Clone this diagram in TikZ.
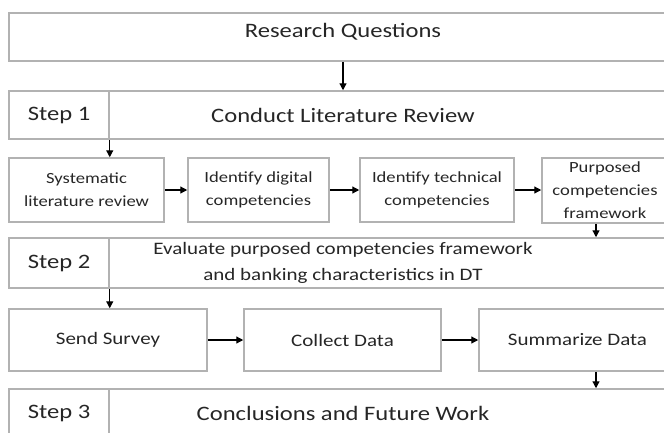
\documentclass[tikz,border=0pt]{standalone}
\usepackage{fontspec}
\setmainfont{Carlito}
\usepackage{graphicx}
\usetikzlibrary{arrows.meta}
\definecolor{boxgray}{RGB}{178,178,178}
\newcommand{\widetxt}[1]{\scalebox{1.2}[1]{#1}}

\begin{document}
\begin{tikzpicture}[x=1pt,y=-1pt,
  box/.style={draw=boxgray,line width=1.5pt,inner sep=0pt,text=black!85,align=center},
  big/.style={font=\fontsize{20.5}{24}\selectfont},
  mid/.style={font=\fontsize{17.5}{26}\selectfont},
  small/.style={font=\fontsize{15.5}{23}\selectfont},
  arr/.style={-{Triangle[length=7pt,width=7pt]},line width=1.2pt}]
  \clip (0,0) rectangle (664,432);
  \coordinate (drop) at (596,0);
  % research questions
  \node[box,big,minimum width=668pt,minimum height=48pt,text height=14pt,text depth=14pt] (rq) at (343,37) {\widetxt{Research Questions}};
  % step 1
  \node[box,big,minimum width=668pt,minimum height=48pt] (row1) at (343,115) {\widetxt{Conduct Literature Review}};
  \node[box,big,minimum width=100pt,minimum height=48pt] (lab1) at (59,115) {\widetxt{Step 1}};
  \node[box,small,minimum width=155pt,minimum height=64pt] (slr) at (86.5,190) {\widetxt{Systematic}\\\widetxt{literature review}};
  \node[box,small,minimum width=141pt,minimum height=64pt] (dig) at (258.5,190) {\widetxt{Identify digital}\\\widetxt{competencies}};
  \node[box,small,minimum width=154pt,minimum height=64pt] (tech) at (437,190) {\widetxt{Identify technical}\\\widetxt{competencies}};
  \node[box,small,minimum width=126pt,minimum height=65pt] (frame) at (605,190.5) {\widetxt{Purposed}\\\widetxt{competencies}\\\widetxt{framework}};
  % step 2
  \node[box,mid,minimum width=668pt,minimum height=50pt] (row2) at (343,263) {\widetxt{Evaluate purposed competencies framework}\\\widetxt{and banking characteristics in DT}};
  \node[box,big,minimum width=100pt,minimum height=50pt] (lab2) at (59,263) {\widetxt{Step 2}};
  \node[box,mid,minimum width=198pt,minimum height=62pt] (send) at (108,340) {\widetxt{Send Survey}};
  \node[box,mid,minimum width=197pt,minimum height=62pt] (coll) at (342.5,340) {\widetxt{Collect Data}};
  \node[box,mid,minimum width=197pt,minimum height=62pt] (summ) at (577.5,340) {\widetxt{Summarize Data}};
  % step 3
  \node[box,big,minimum width=668pt,minimum height=48pt] (row3) at (343,413) {\widetxt{Conclusions and Future Work}};
  \node[box,big,minimum width=100pt,minimum height=48pt] (lab3) at (59,413) {\widetxt{Step 3}};
  % arrows
  \draw[arr] (rq.south) -- (row1.north);
  \draw[arr] (lab1.south east) -- (lab1.south east |- slr.north);
  \draw[arr] (slr.east) -- (dig.west);
  \draw[arr] (dig.east) -- (tech.west);
  \draw[arr] (tech.east) -- (frame.west |- tech.east);
  \draw[arr] (frame.south -| drop) -- (row2.north -| drop);
  \draw[arr] (lab2.south east) -- (lab2.south east |- send.north);
  \draw[arr] (send.east) -- (coll.west);
  \draw[arr] (coll.east) -- (summ.west);
  \draw[arr] (summ.south -| drop) -- (row3.north -| drop);
\end{tikzpicture}
\end{document}
